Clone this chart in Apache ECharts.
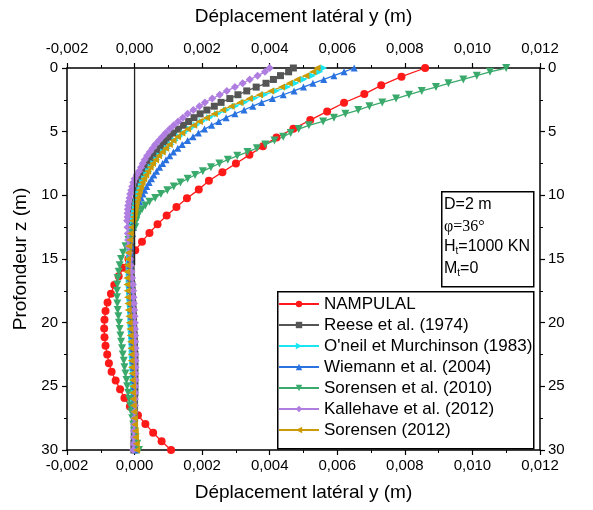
<!DOCTYPE html>
<html><head><meta charset="utf-8">
<script src="https://cdn.jsdelivr.net/npm/echarts@6/dist/echarts.min.js"></script>
<style>html,body{margin:0;padding:0;background:#fff}#c{width:593px;height:510px}</style>
</head><body><div id="c"></div>
<script>
// Depth (m) for NAMPULAL
const depthRed = [0,0.68,1.36,2.05,2.73,3.41,4.09,4.77,5.45,6.14,6.82,7.5,8.18,8.86,9.55,10.23,10.91,11.59,12.27,12.95,13.64,14.32,15,15.68,16.36,17.05,17.73,18.41,19.09,19.77,20.45,21.14,21.82,22.5,23.18,23.86,24.55,25.23,25.91,26.59,27.27,27.95,28.64,29.32,30];
const nampulal = [0.0086,0.0079,0.0073,0.0068,0.0062,0.0057,0.0052,0.0047,0.0042,0.0038,0.0034,0.0030,0.0026,0.0022,0.0019,0.00155,0.00124,0.00095,0.00068,0.00044,0.00022,0.00002,-0.00018,-0.00033,-0.00047,-0.0006,-0.0007,-0.0008,-0.00086,-0.00089,-0.0009,-0.00089,-0.00086,-0.00081,-0.00076,-0.00068,-0.00056,-0.00043,-0.0003,-0.00014,0.0001,0.00032,0.00055,0.0008,0.00108];

// Depth (m) for the other methods
const depth = [0,0.3,0.6,0.9,1.2,1.5,1.8,2.1,2.4,2.7,3,3.3,3.6,3.9,4.2,4.5,4.8,5.1,5.4,5.7,6,6.3,6.6,6.9,7.2,7.5,7.8,8.1,8.4,8.7,9,9.3,9.6,9.9,10.2,10.5,10.8,11.1,11.4,11.7,12,
  12.5,13,13.5,14,14.5,15,15.5,16,16.5,17,17.5,18,18.5,19,19.5,20,20.5,21,21.5,22,22.5,23,23.5,24,24.5,25,25.5,26,26.5,27,27.5,28,28.5,29,29.5,30];
const reese = [0.0047,0.00456,0.00432,0.00411,0.00389,0.0036,0.00332,0.00306,0.00282,0.00256,0.00236,0.00214,0.00194,0.00176,0.0016,0.00145,0.0013,0.00116,0.00104,0.00093,0.00084,0.00075,0.00066,0.00057,0.0005,0.00043,0.00037,0.00031,0.00026,0.00021,0.00016,0.00013,0.0001,0.00007,0.00005,0.00002,0,-0.00002,-0.00004,-0.00005,-0.00007,
  -0.00009,-0.0001,-0.0001,-0.00011,-0.00011,-0.00011,-0.0001,-0.0001,-0.00009,-0.00008,-0.00007,-0.00006,-0.00005,-0.00004,-0.00003,-0.00003,-0.00002,-0.00001,0,0,0.00001,0.00001,0.00001,0.00001,0.00001,0.00001,0.00001,0,0,0,0,-0.00001,-0.00001,-0.00001,-0.00002,-0.00002];
const oneil = [0.0056,0.00548,0.00526,0.005,0.00476,0.00452,0.00419,0.00385,0.00354,0.00325,0.00298,0.00272,0.00246,0.00222,0.002,0.00182,0.00164,0.00147,0.00133,0.0012,0.00108,0.00097,0.00086,0.00075,0.00066,0.00057,0.00049,0.00042,0.00036,0.0003,0.00024,0.0002,0.00016,0.00012,0.00009,0.00006,0.00004,0.00002,0,-0.00002,-0.00004,
  -0.00007,-0.00009,-0.00011,-0.00013,-0.00014,-0.00015,-0.00016,-0.00016,-0.00016,-0.00016,-0.00015,-0.00014,-0.00013,-0.00012,-0.00011,-0.00011,-0.0001,-0.00009,-0.00008,-0.00007,-0.00007,-0.00006,-0.00005,-0.00004,-0.00004,-0.00003,-0.00002,-0.00002,-0.00001,0,0.00001,0.00001,0.00002,0.00003,0.00004,0.00005];
const wiemann = [0.0065,0.0062,0.0059,0.0056,0.00528,0.005,0.00472,0.0044,0.00408,0.00376,0.0035,0.00324,0.00297,0.00271,0.00249,0.00228,0.00207,0.00189,0.00173,0.00157,0.00141,0.00128,0.00115,0.00104,0.00093,0.00083,0.00074,0.00065,0.00057,0.0005,0.00043,0.00036,0.0003,0.00025,0.0002,0.00015,0.00011,0.00008,0.00005,0.00002,0,
  -0.00003,-0.00006,-0.00008,-0.0001,-0.00012,-0.00013,-0.00014,-0.00014,-0.00014,-0.00014,-0.00013,-0.00012,-0.00011,-0.00011,-0.0001,-0.00009,-0.00008,-0.00007,-0.00007,-0.00006,-0.00005,-0.00005,-0.00004,-0.00003,-0.00003,-0.00002,-0.00002,-0.00001,-0.00001,0,0,0.00001,0.00002,0.00002,0.00003,0.00004];
const sorensen2010 = [0.011,0.01052,0.01013,0.00973,0.00929,0.00892,0.0085,0.00812,0.00774,0.00733,0.00695,0.00662,0.00624,0.0059,0.00558,0.00516,0.00486,0.00462,0.0044,0.00414,0.00387,0.00362,0.00334,0.00304,0.00276,0.00251,0.00226,0.00202,0.00179,0.00157,0.00136,0.00116,0.00097,0.00078,0.00061,0.00044,0.00032,0.00022,0.00013,0.00008,0.00005,
  0.00002,-0.00008,-0.00018,-0.00027,-0.00034,-0.0004,-0.00044,-0.00047,-0.0005,-0.00051,-0.00052,-0.00052,-0.00051,-0.0005,-0.00048,-0.00046,-0.00044,-0.00042,-0.0004,-0.00037,-0.00035,-0.00032,-0.0003,-0.00027,-0.00024,-0.00022,-0.00019,-0.00016,-0.00013,-0.0001,-0.00007,-0.00004,-0.00001,0.00003,0.00008,0.00013];
const kallehave = [0.004,0.00386,0.00364,0.00341,0.0032,0.00297,0.00273,0.00252,0.0023,0.00208,0.00192,0.00174,0.00157,0.00143,0.00129,0.00116,0.00104,0.00092,0.00082,0.00072,0.00061,0.00053,0.00045,0.00037,0.0003,0.00024,0.00019,0.00013,0.00006,0,-0.00004,-0.00007,-0.0001,-0.00013,-0.00015,-0.00017,-0.00019,-0.0002,-0.00021,-0.00021,-0.00022,
  -0.00021,-0.0002,-0.00019,-0.00018,-0.00016,-0.00013,-0.00011,-0.00009,-0.00007,-0.00005,-0.00004,-0.00003,-0.00002,-0.00001,0,0.00001,0.00001,0.00002,0.00002,0.00003,0.00003,0.00003,0.00003,0.00003,0.00003,0.00002,0.00002,0.00001,0.00001,0,-0.00001,-0.00001,-0.00002,-0.00002,-0.00003,-0.00004];
const sorensen2012 = [0.0054,0.00528,0.00507,0.00481,0.00458,0.00435,0.00403,0.0037,0.0034,0.00312,0.00286,0.00261,0.00236,0.00213,0.00192,0.00175,0.00157,0.0014,0.00127,0.00114,0.00103,0.00092,0.00082,0.00071,0.00062,0.00053,0.00046,0.00039,0.00033,0.00027,0.00022,0.00018,0.00014,0.00011,0.00008,0.00005,0.00003,0.00001,-0.00001,-0.00003,-0.00006,
  -0.00009,-0.00012,-0.00014,-0.00017,-0.00019,-0.00021,-0.00022,-0.00023,-0.00023,-0.00023,-0.00022,-0.00021,-0.0002,-0.00019,-0.00017,-0.00016,-0.00014,-0.00013,-0.00012,-0.00011,-0.0001,-0.0001,-0.00009,-0.00008,-0.00007,-0.00006,-0.00006,-0.00005,-0.00004,-0.00002,-0.00001,0,0.00002,0.00003,0.00005,0.00006];

// zero reference line (x, depth)
const zeroLineX = [0,0];
const zeroLineDepth = [0,15.5];

const xTicks = {min:-0.002, max:0.012, interval:0.002};
const yTicks = {min:0, max:30, interval:5};

const names = ['NAMPULAL','Reese et al. (1974)',"O'neil et Murchinson (1983)",'Wiemann et al. (2004)','Sorensen et al. (2010)','Kallehave et al. (2012)','Sorensen (2012)'];

const FONT = 'Liberation Sans, Arial, sans-serif';
function pairs(xs, ds){ return xs.map((v,i)=>[v, ds[i]]); }
function mk(name, xs, ds, color, symbol, rot, size){
  return {type:'line', name, data:pairs(xs,ds), symbol, symbolRotate:rot, symbolSize:size,
    lineStyle:{color, width:1.3}, itemStyle:{color, borderWidth:0}, showSymbol:true, animation:false, z:3};
}

const fmtX = v => v.toFixed(3).replace('.', ',');
const axisCommon = {
  axisLine:{show:true, onZero:false, lineStyle:{color:'#000', width:1.5}},
  axisTick:{show:true, inside:false, length:5, lineStyle:{color:'#000', width:1.2}},
  minorTick:{show:true, splitNumber:2, length:3, lineStyle:{color:'#000', width:1}},
  splitLine:{show:false},
  axisLabel:{color:'#000', fontSize:15, fontFamily:FONT}
};
const titleStyle = {color:'#000', fontSize:19, fontFamily:FONT};

const chart = echarts.init(document.getElementById('c'), null, {renderer:'canvas'});
chart.setOption({
  animation:false,
  backgroundColor:'#fff',
  grid:{left:67, right:53, top:68, bottom:60, show:false},
  xAxis:[
    Object.assign({type:'value', position:'bottom', ...xTicks, name:'Déplacement latéral y (m)', nameLocation:'middle', nameGap:33,
      nameTextStyle:titleStyle}, axisCommon,
      {axisLabel:Object.assign({}, axisCommon.axisLabel, {formatter:fmtX, margin:8})}),
    Object.assign({type:'value', position:'top', ...xTicks, name:'Déplacement latéral y (m)', nameLocation:'middle', nameGap:42,
      nameTextStyle:titleStyle}, axisCommon,
      {axisLabel:Object.assign({}, axisCommon.axisLabel, {formatter:fmtX, margin:12})})
  ],
  yAxis:[
    Object.assign({type:'value', position:'left', inverse:true, ...yTicks, name:'Profondeur z (m)', nameLocation:'middle', nameGap:35,
      nameTextStyle:titleStyle}, axisCommon,
      {axisLabel:Object.assign({}, axisCommon.axisLabel, {margin:9})}),
    Object.assign({type:'value', position:'right', inverse:true, ...yTicks}, axisCommon,
      {axisLabel:Object.assign({}, axisCommon.axisLabel, {margin:8})})
  ],
  legend:{
    show:true, orient:'vertical', left:278, top:295.5, padding:0, itemWidth:40, itemHeight:8, itemGap:4,
    data:names, textStyle:{color:'#000', fontSize:17, fontFamily:FONT}, selectedMode:false
  },
  graphic:[
    {type:'rect', left:277, top:291, z:10, shape:{width:256, height:157}, style:{fill:'transparent', stroke:'#000', lineWidth:1.5}},
    {type:'rect', left:441, top:191, z:10, shape:{width:92, height:95}, style:{fill:'#fff', stroke:'#000', lineWidth:1.5}},
    {type:'text', left:444, top:197, z:11, style:{text:'D=2 m', fill:'#000', font:'16px '+FONT}},
    {type:'text', left:444, top:219, z:11, style:{text:'φ=36°', fill:'#000', font:'16px "Liberation Serif", "Times New Roman", serif'}},
    {type:'text', left:444, top:239, z:11, style:{text:'{n|H}{s|t}{n|=1000 KN}', rich:{n:{fontSize:16, fontFamily:FONT, color:'#000'}, s:{fontSize:10, fontFamily:FONT, color:'#000', padding:[9,0,0,0]}}}},
    {type:'text', left:444, top:261, z:11, style:{text:'{n|M}{s|t}{n|=0}', rich:{n:{fontSize:16, fontFamily:FONT, color:'#000'}, s:{fontSize:10, fontFamily:FONT, color:'#000', padding:[9,0,0,0]}}}}
  ],
  series:[
    mk(names[0], nampulal, depthRed, '#ff1a1a', 'circle', 0, 8),
    mk(names[1], reese, depth, '#555555', 'rect', 0, 7),
    mk(names[2], oneil, depth, '#19e6f0', 'triangle', -90, 7),
    mk(names[3], wiemann, depth, '#2a72e0', 'triangle', 0, 7),
    mk(names[4], sorensen2010, depth, '#3aaa6c', 'triangle', 180, 8),
    mk(names[5], kallehave, depth, '#b07ee0', 'diamond', 0, 8),
    mk(names[6], sorensen2012, depth, '#cc9a06', 'triangle', 90, 7),
    {type:'line', name:'zero', data:pairs(zeroLineX, zeroLineDepth), symbol:'none', lineStyle:{color:'#222', width:1.3}, z:4, silent:true}
  ]
});
</script></body></html>
